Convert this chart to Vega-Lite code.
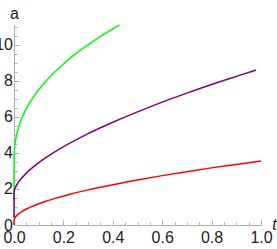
{
  "$schema": "https://vega.github.io/schema/vega-lite/v6.json",
  "width": 247,
  "height": 200,
  "autosize": {"type": "none"},
  "padding": {"left": 14, "top": 25, "right": 16, "bottom": 24},
  "background": "white",
  "config": {"view": {"stroke": null}, "axis": {"grid": false}},
  "data": {"values": [
    {"c": "green", "t": 0, "a": 1.4},
    {"c": "green", "t": 0.0003, "a": 3.81},
    {"c": "green", "t": 0.001, "a": 4.03},
    {"c": "green", "t": 0.003, "a": 4.36},
    {"c": "green", "t": 0.006, "a": 4.66},
    {"c": "green", "t": 0.01, "a": 4.96},
    {"c": "green", "t": 0.02, "a": 5.48},
    {"c": "green", "t": 0.035, "a": 6.03},
    {"c": "green", "t": 0.05, "a": 6.46},
    {"c": "green", "t": 0.075, "a": 7.03},
    {"c": "green", "t": 0.1, "a": 7.51},
    {"c": "green", "t": 0.14, "a": 8.15},
    {"c": "green", "t": 0.185, "a": 8.74},
    {"c": "green", "t": 0.24, "a": 9.4},
    {"c": "green", "t": 0.3, "a": 10.0},
    {"c": "green", "t": 0.36, "a": 10.55},
    {"c": "green", "t": 0.427, "a": 11.1},
    {"c": "purple", "t": 0, "a": 0.4},
    {"c": "purple", "t": 0.0003, "a": 1.75},
    {"c": "purple", "t": 0.002, "a": 1.95},
    {"c": "purple", "t": 0.006, "a": 2.09},
    {"c": "purple", "t": 0.015, "a": 2.31},
    {"c": "purple", "t": 0.03, "a": 2.58},
    {"c": "purple", "t": 0.05, "a": 2.88},
    {"c": "purple", "t": 0.08, "a": 3.24},
    {"c": "purple", "t": 0.12, "a": 3.65},
    {"c": "purple", "t": 0.17, "a": 4.1},
    {"c": "purple", "t": 0.23, "a": 4.57},
    {"c": "purple", "t": 0.3, "a": 5.07},
    {"c": "purple", "t": 0.4, "a": 5.7},
    {"c": "purple", "t": 0.5, "a": 6.28},
    {"c": "purple", "t": 0.6, "a": 6.82},
    {"c": "purple", "t": 0.7, "a": 7.32},
    {"c": "purple", "t": 0.8, "a": 7.8},
    {"c": "purple", "t": 0.9, "a": 8.25},
    {"c": "purple", "t": 0.98, "a": 8.6},
    {"c": "red", "t": 0, "a": 0},
    {"c": "red", "t": 0.0003, "a": 0.29},
    {"c": "red", "t": 0.002, "a": 0.36},
    {"c": "red", "t": 0.006, "a": 0.45},
    {"c": "red", "t": 0.015, "a": 0.58},
    {"c": "red", "t": 0.03, "a": 0.73},
    {"c": "red", "t": 0.05, "a": 0.89},
    {"c": "red", "t": 0.08, "a": 1.07},
    {"c": "red", "t": 0.12, "a": 1.28},
    {"c": "red", "t": 0.17, "a": 1.49},
    {"c": "red", "t": 0.23, "a": 1.72},
    {"c": "red", "t": 0.3, "a": 1.95},
    {"c": "red", "t": 0.4, "a": 2.24},
    {"c": "red", "t": 0.5, "a": 2.5},
    {"c": "red", "t": 0.6, "a": 2.74},
    {"c": "red", "t": 0.7, "a": 2.96},
    {"c": "red", "t": 0.8, "a": 3.17},
    {"c": "red", "t": 0.9, "a": 3.36},
    {"c": "red", "t": 1.0, "a": 3.55}
  ]},
  "layer": [
    {
      "mark": {"type": "line", "interpolate": "monotone", "strokeWidth": 1.5},
      "encoding": {
        "x": {
          "field": "t", "type": "quantitative",
          "scale": {"domain": [0, 1], "nice": false, "zero": false},
          "axis": {
            "orient": "bottom",
            "values": [0, 0.2, 0.4, 0.6, 0.8, 1],
            "format": ".1f",
            "domainColor": "#b0b0b0", "tickColor": "#b0b0b0",
            "tickSize": -5, "labelPadding": 9,
            "labelFont": "Liberation Sans", "labelFontSize": 16, "labelColor": "#222222",
            "labelBaseline": "top", "labelFlush": false, "labelOverlap": false,
            "title": "t", "titleX": 260, "titleY": -1, "titleAlign": "center", "titleBaseline": "middle",
            "titleFont": "Liberation Sans", "titleFontSize": 16, "titleFontWeight": "normal", "titleFontStyle": "italic", "titleColor": "#222222"
          }
        },
        "y": {
          "field": "a", "type": "quantitative",
          "scale": {"domain": [0, 11.1], "nice": false, "zero": false},
          "axis": {
            "orient": "left",
            "values": [0, 2, 4, 6, 8, 10],
            "domainColor": "#b0b0b0", "tickColor": "#b0b0b0",
            "tickSize": -5, "labelPadding": 6.5,
            "labelFont": "Liberation Sans", "labelFontSize": 16, "labelColor": "#222222",
            "labelBaseline": "middle", "labelFlush": false, "labelOverlap": false,
            "title": "a", "titleX": 0, "titleY": -12, "titleAngle": 0, "titleAlign": "center", "titleBaseline": "middle",
            "titleFont": "Liberation Sans", "titleFontSize": 16, "titleFontWeight": "normal", "titleFontStyle": "normal", "titleColor": "#222222"
          }
        },
        "color": {
          "field": "c", "type": "nominal",
          "scale": {"domain": ["green", "purple", "red"], "range": ["#00ff00", "#800080", "#ff0000"]},
          "legend": null
        }
      }
    },
    {
      "mark": {"type": "line", "opacity": 0},
      "encoding": {
        "x": {
          "field": "t", "type": "quantitative",
          "scale": {"domain": [0, 1], "nice": false, "zero": false},
          "axis": {
            "orient": "bottom",
            "values": [0.05, 0.1, 0.15, 0.25, 0.3, 0.35, 0.45, 0.5, 0.55, 0.65, 0.7, 0.75, 0.85, 0.9, 0.95],
            "labels": false, "domain": false, "tickColor": "#b0b0b0", "tickSize": -3, "title": null
          }
        },
        "y": {
          "field": "a", "type": "quantitative",
          "scale": {"domain": [0, 11.1], "nice": false, "zero": false},
          "axis": {
            "orient": "left",
            "values": [0.5, 1, 1.5, 2.5, 3, 3.5, 4.5, 5, 5.5, 6.5, 7, 7.5, 8.5, 9, 9.5, 10.5, 11],
            "labels": false, "domain": false, "tickColor": "#b0b0b0", "tickSize": -3, "title": null
          }
        },
        "detail": {"field": "c", "type": "nominal"}
      }
    }
  ],
  "resolve": {"axis": {"x": "independent", "y": "independent"}}
}
